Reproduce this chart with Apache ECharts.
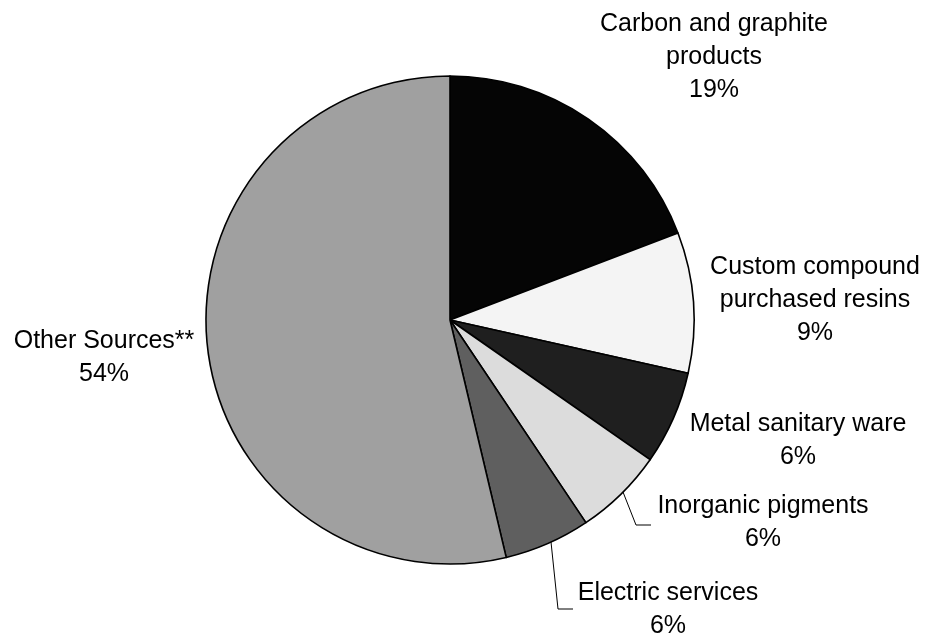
<!DOCTYPE html>
<html>
<head>
<meta charset="utf-8">
<style>
  html, body { margin: 0; padding: 0; background: #fff; }
  #chart { width: 927px; height: 636px; }
</style>
<script src="https://cdn.jsdelivr.net/npm/echarts@6/dist/echarts.min.js"></script>
</head>
<body>
<div id="chart"></div>
<script>
// Source shares (percent), read clockwise from 12 o'clock.
const categories = [
  'Carbon and graphite\nproducts',
  'Custom compound\npurchased resins',
  'Metal sanitary ware',
  'Inorganic pigments',
  'Electric services',
  'Other Sources**',
];
const shares = [19.2, 9.3, 6.2, 5.9, 5.7, 53.7];
const sliceColors = ['#050505', '#f4f4f4', '#1f1f1f', '#dcdcdc', '#5f5f5f', '#a0a0a0'];

// label anchors (text block centre) + optional leader line bend/end
const labelPos = [
  { x: 714, y: 57 },
  { x: 815, y: 300 },
  { x: 798, y: 441 },
  { x: 763, y: 523, line: [[623, 492], [636, 525], [651, 525]] },
  { x: 668, y: 610, line: [[551, 542], [558, 609], [573, 609]] },
  { x: 104, y: 358 },
];

const chart = echarts.init(document.getElementById('chart'), null, { renderer: 'canvas' });

chart.setOption({
  backgroundColor: '#fff',
  animation: false,
  series: [{
    type: 'pie',
    center: [450, 320],
    radius: 244,
    startAngle: 90,
    clockwise: true,
    avoidLabelOverlap: false,
    itemStyle: { borderColor: '#000', borderWidth: 1.6 },
    emphasis: { disabled: true },
    label: {
      show: true,
      position: 'outside',
      color: '#000',
      fontFamily: 'Liberation Sans, Arial, sans-serif',
      fontSize: 25,
      lineHeight: 33,
      align: 'center',
      formatter: (p) => p.name + '\n' + Math.round(p.percent) + '%',
    },
    labelLine: { show: false, lineStyle: { color: '#000', width: 1 } },
    labelLayout: (params) => {
      const pos = labelPos[params.dataIndex];
      const out = { x: pos.x, y: pos.y, align: 'center', verticalAlign: 'middle' };
      if (pos.line) out.labelLinePoints = pos.line;
      return out;
    },
    data: shares.map((v, i) => ({
      name: categories[i],
      value: v,
      itemStyle: { color: sliceColors[i] },
      labelLine: { show: !!labelPos[i].line },
    })),
  }],
});
</script>
</body>
</html>
